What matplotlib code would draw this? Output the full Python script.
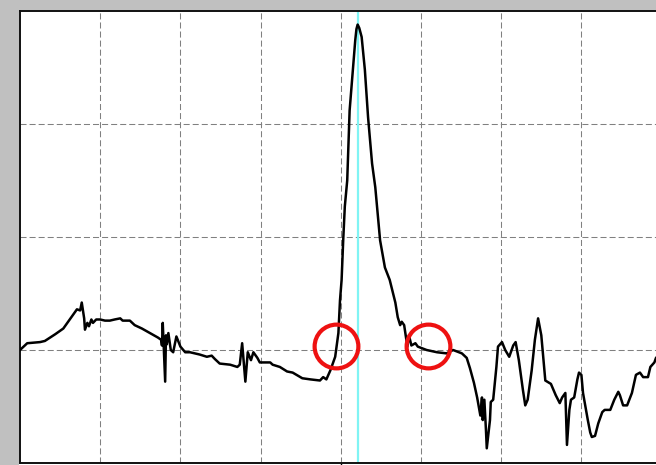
import matplotlib
matplotlib.use("Agg")
import matplotlib.pyplot as plt
from matplotlib.patches import Rectangle

# ── Trace data (grid divisions: 10 units each) ───────────────
trace_x = [0, 0.9, 2.5, 3.1, 4.4, 5.4, 6.2, 6.9, 7.1, 7.5, 7.7, 8.0, 8.1, 8.4, 8.6,
           8.9, 9.1, 9.5, 10.0, 10.6, 11.2, 11.8, 12.5, 12.8, 13.7, 14.3, 15.2,
           16.2, 17.2, 17.6, 17.7, 17.8, 18.1, 18.2, 18.3, 18.5, 18.8, 19.1, 19.5,
           20.0, 20.6, 21.2, 22.4, 23.3, 23.9, 24.3, 24.9, 26.2, 27.1, 27.4, 27.7,
           28.1, 28.4, 28.8, 29.1, 29.6, 29.9, 30.3, 31.2, 31.5, 32.4, 33.3, 34.0,
           35.2, 36.2, 37.4, 37.8, 38.2, 38.7, 39.3, 39.7, 39.9, 40.1, 40.3, 40.5,
           40.8, 41.1, 41.5, 41.8, 41.95, 42.1, 42.3, 42.6, 43.0, 43.4, 43.9, 44.3,
           44.9, 45.5, 46.1, 46.8, 47.1, 47.4, 47.6, 47.9, 48.3, 48.5, 48.8, 49.3,
           49.6, 50.7, 52.0, 53.2, 54.0, 55.1, 55.7, 56.1, 56.6, 57.0, 57.4, 57.6,
           57.7, 57.9, 58.1, 58.2, 58.6, 58.7, 59.0, 59.4, 59.6, 60.1, 60.5, 61.0,
           61.5, 61.8, 62.2, 62.7, 63.0, 63.3, 63.8, 64.2, 64.6, 65.0, 65.5, 66.2,
           66.8, 67.3, 67.6, 68.0, 68.2, 68.5, 68.7, 69.1, 69.5, 69.7, 70.0, 70.2,
           70.8, 71.1, 71.3, 71.7, 72.1, 72.6, 72.9, 73.6, 74.1, 74.6, 74.8, 75.2,
           75.7, 76.3, 76.8, 77.3, 77.7, 78.3, 78.6, 79.1, 79.3, 80.0]
trace_y = [10.0, 10.6, 10.7, 10.8, 11.4, 11.9, 12.7, 13.4, 13.6, 13.5, 14.2, 12.8,
           11.8, 12.4, 12.1, 12.7, 12.4, 12.7, 12.7, 12.6, 12.6, 12.7, 12.8, 12.6,
           12.6, 12.2, 11.9, 11.5, 11.1, 10.9, 10.4, 12.4, 7.2, 11.3, 10.5, 11.5,
           10.0, 9.8, 11.2, 10.3, 9.8, 9.8, 9.6, 9.4, 9.5, 9.2, 8.8, 8.7, 8.5, 8.7,
           10.6, 7.2, 9.8, 9.1, 9.8, 9.3, 8.9, 8.9, 8.9, 8.7, 8.5, 8.1, 8.0, 7.5,
           7.4, 7.3, 7.6, 7.4, 8.2, 9.4, 11.5, 14.4, 16.2, 19.7, 22.7, 25.0, 31.2,
           34.8, 37.4, 38.4, 38.8, 38.5, 37.7, 34.8, 30.6, 26.5, 24.4, 19.7, 17.3,
           16.2, 14.2, 12.9, 12.2, 12.5, 12.2, 10.3, 11.3, 10.4, 10.6, 10.3, 10.0,
           9.8, 9.7, 10.0, 9.7, 9.3, 8.4, 7.1, 5.8, 4.2, 5.8, 3.8, 5.6, 2.9, 1.3,
           3.8, 5.4, 5.6, 8.5, 10.3, 10.7, 10.0, 9.4, 10.4, 10.7, 9.1, 6.5, 5.1,
           5.6, 8.2, 10.9, 12.8, 11.3, 7.3, 7.0, 6.0, 5.3, 5.8, 6.2, 1.6, 4.7, 5.6,
           5.8, 7.4, 8.0, 7.8, 6.2, 3.8, 2.7, 2.3, 2.4, 3.5, 4.5, 4.7, 4.7, 5.6,
           6.3, 6.0, 5.1, 5.1, 6.2, 7.8, 8.0, 7.6, 7.6, 8.5, 8.9, 9.3, 9.8]

marker_x = 42.1                  # cursor position
circle_x = [39.4, 50.9]          # highlighted points
circle_y = [10.35, 10.35]

grid_x = [10, 20, 30, 40, 50, 60, 70]
grid_y = [10, 20, 30]

# ── Figure ────────────────────────────────────────────────────
fig = plt.figure(figsize=(6.56, 4.65), dpi=100, facecolor="white")

# window frame
fig.patches.append(Rectangle((0, 1 - 10 / 465), 1, 10 / 465, transform=fig.transFigure,
                             facecolor="#c0c0c0", edgecolor="none", zorder=0))
fig.patches.append(Rectangle((0, 0), 19 / 656, 1, transform=fig.transFigure,
                             facecolor="#c0c0c0", edgecolor="none", zorder=0))

ax = fig.add_axes([20 / 656, 2 / 465, 641.6 / 656, 452 / 465])
ax.set_xlim(0, 80)
ax.set_ylim(0, 40)

for gx in grid_x:
    ax.axvline(gx, color="#808080", lw=0.75, linestyle=(0, (5.8, 2.9)), zorder=1)
for gy in grid_y:
    ax.axhline(gy, color="#808080", lw=0.75, linestyle=(0, (5.8, 2.9)), zorder=1)

ax.axvline(marker_x, color="#80f4f4", lw=1.6, zorder=2)
ax.plot(trace_x, trace_y, color="black", lw=1.8, zorder=3)
ax.plot(circle_x, circle_y, "o", ms=31.5, mfc="none", mec="#ee1111", mew=3.0, zorder=4)

for side in ["top", "left", "bottom"]:
    ax.spines[side].set_linewidth(1.4)
    ax.spines[side].set_color("#101010")
ax.spines["right"].set_visible(False)

ax.set_xticks([40])
ax.set_xticklabels([])
ax.set_yticks([])
ax.tick_params(axis="x", length=2, width=1, color="black")

plt.savefig("out.png", dpi=100)
